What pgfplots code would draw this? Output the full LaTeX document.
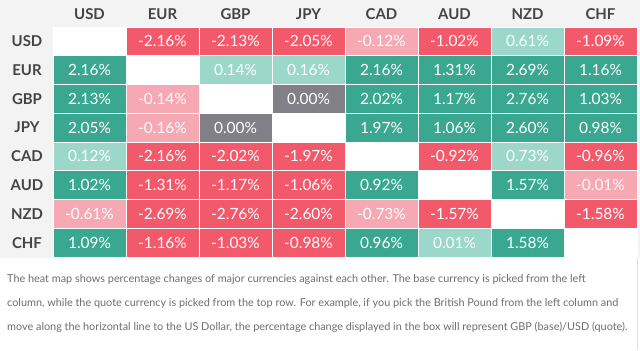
\documentclass[border=0pt]{standalone}
\usepackage{pgfplots}
\pgfplotsset{compat=1.18}
\usepackage{fontspec}
\setmainfont{Lato}
\newfontfamily\notefont{Lato}
\definecolor{bgtop}{RGB}{243,243,243}
\definecolor{lab}{RGB}{68,68,68}
\definecolor{note}{RGB}{110,110,110}
\begin{document}
\begin{tikzpicture}[x=1bp,y=1bp]
\fill[bgtop] (0,92) rectangle (640,350);
\fill[white] (0,0) rectangle (640,92);
\draw[gray!25, line width=0.8bp] (637,0) -- (637,92);
\begin{axis}[
  at={(53bp,93bp)}, anchor=south west,
  scale only axis, width=584bp, height=230bp,
  xmin=-0.5, xmax=7.5, ymin=-0.5, ymax=7.5,
  y dir=reverse,
  axis line style={draw=none},
  major tick length=0pt, minor tick length=0pt,
  xtick={0,...,7}, ytick={0,...,7},
  xticklabels={USD,EUR,GBP,JPY,CAD,AUD,NZD,CHF},
  yticklabels={USD,EUR,GBP,JPY,CAD,AUD,NZD,CHF},
  xticklabel pos=upper,
  xticklabel style={anchor=center, yshift=13bp, font=\fontsize{15}{15}\selectfont\bfseries, text=lab},
  yticklabel style={anchor=center, xshift=-26bp, font=\fontsize{15}{15}\selectfont\bfseries, text=lab},
  minor xtick={-0.5,0.5,...,7.5}, minor ytick={-0.5,0.5,...,7.5},
  minor grid style={white, line width=1bp},
  major grid style={draw=none},
  grid=minor,
  axis on top,
  colormap={cls}{rgb255=(255,255,255) rgb255=(242,90,107) rgb255=(247,169,179) rgb255=(128,128,134) rgb255=(155,216,202) rgb255=(58,167,145)},
  colormap access=direct,
  /pgf/number format/.cd, fixed, fixed zerofill, precision=2, assume math mode=true,
]
\addplot[matrix plot*, point meta=explicit, mesh/cols=8] table[meta=c] {
x y c
0 0 0
1 0 1
2 0 1
3 0 1
4 0 2
5 0 1
6 0 4
7 0 1
0 1 5
1 1 0
2 1 4
3 1 4
4 1 5
5 1 5
6 1 5
7 1 5
0 2 5
1 2 2
2 2 0
3 2 3
4 2 5
5 2 5
6 2 5
7 2 5
0 3 5
1 3 2
2 3 3
3 3 0
4 3 5
5 3 5
6 3 5
7 3 5
0 4 4
1 4 1
2 4 1
3 4 1
4 4 0
5 4 1
6 4 4
7 4 1
0 5 5
1 5 1
2 5 1
3 5 1
4 5 5
5 5 0
6 5 5
7 5 2
0 6 2
1 6 1
2 6 1
3 6 1
4 6 2
5 6 1
6 6 0
7 6 1
0 7 5
1 7 1
2 7 1
3 7 1
4 7 5
5 7 4
6 7 5
7 7 0
};
\addplot[only marks, mark=none, point meta=explicit,
  nodes near coords={\pgfmathprintnumber{\pgfplotspointmeta}\%},
  every node near coord/.append style={anchor=center, text=white, font=\fontsize{15.5}{15.5}\selectfont}]
 table[meta=v] {
x y v
1 0 -2.16
2 0 -2.13
3 0 -2.05
4 0 -0.12
5 0 -1.02
6 0 0.61
7 0 -1.09
0 1 2.16
2 1 0.14
3 1 0.16
4 1 2.16
5 1 1.31
6 1 2.69
7 1 1.16
0 2 2.13
1 2 -0.14
3 2 0.00
4 2 2.02
5 2 1.17
6 2 2.76
7 2 1.03
0 3 2.05
1 3 -0.16
2 3 0.00
4 3 1.97
5 3 1.06
6 3 2.60
7 3 0.98
0 4 0.12
1 4 -2.16
2 4 -2.02
3 4 -1.97
5 4 -0.92
6 4 0.73
7 4 -0.96
0 5 1.02
1 5 -1.31
2 5 -1.17
3 5 -1.06
4 5 0.92
6 5 1.57
7 5 -0.01
0 6 -0.61
1 6 -2.69
2 6 -2.76
3 6 -2.60
4 6 -0.73
5 6 -1.57
7 6 -1.58
0 7 1.09
1 7 -1.16
2 7 -1.03
3 7 -0.98
4 7 0.96
5 7 0.01
6 7 1.58
};
\end{axis}
\begin{scope}[every node/.style={anchor=base west, inner sep=0pt, text=note, font=\notefont\fontsize{10.9}{12}\selectfont}]
\node at (7,68) {The heat map shows percentage changes of major currencies against each other. The base currency is picked from the left};
\node at (7,44) {column, while the quote currency is picked from the top row. For example, if you pick the British Pound from the left column and};
\node at (7,20) {move along the horizontal line to the US Dollar, the percentage change displayed in the box will represent GBP (base)/USD (quote).};
\end{scope}
\end{tikzpicture}
\end{document}
